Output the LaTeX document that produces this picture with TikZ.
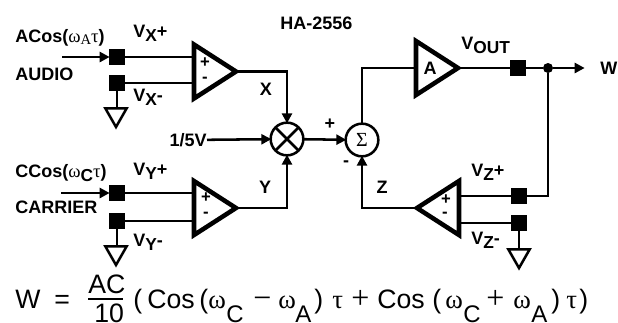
\documentclass[tikz,border=0pt]{standalone}
\usepackage{fontspec}
\setmainfont{Liberation Sans}
\newfontfamily\symfont{Liberation Serif}
\usetikzlibrary{shapes.geometric, arrows.meta, positioning}
\newcommand{\lowsub}[1]{\raisebox{-0.42ex}{\fontsize{13}{13}\selectfont #1}}
\newcommand{\sym}[1]{{\symfont\fontsize{14}{14}\selectfont\mdseries #1}}
\newcommand{\bigsub}[1]{\raisebox{-1.05ex}{\fontsize{18}{18}\selectfont #1}}
\newcommand{\bigop}[1]{{\symfont\fontsize{24}{24}\selectfont #1}}
\tikzset{
  wire/.style={line width=1.9pt},
  sig/.style={wire, -{Triangle[length=7.5pt,width=7.5pt]}, shorten >=-0.5pt},
  amp/.style={draw, line width=3.4pt, isosceles triangle, isosceles triangle stretches,
    minimum height=31.5pt, minimum width=40.5pt, inner sep=0pt, outer sep=0pt, anchor=apex},
  gnd/.style={draw, line width=1.9pt, isosceles triangle, isosceles triangle stretches,
    shape border rotate=-90, minimum height=14pt, minimum width=16pt,
    inner sep=0pt, outer sep=0pt, anchor=apex},
  pad/.style={fill, minimum size=12pt, inner sep=0pt, outer sep=0pt},
  junction/.style={circle, draw, line width=1.9pt, minimum size=24.5pt, inner sep=0pt, outer sep=0pt},
  dotnode/.style={circle, fill, minimum size=7.5pt, inner sep=0pt},
  lbl/.style={font=\fontsize{13.5}{14}\selectfont\bfseries, inner sep=0pt},
  lbll/.style={lbl, anchor=west},
  sign/.style={font=\fontsize{12.5}{13}\selectfont\bfseries, inner sep=0pt},
  eqn/.style={font=\fontsize{20}{20}\selectfont, inner sep=0pt, anchor=base west}
}
\begin{document}
\begin{tikzpicture}[x=0.75pt,y=-0.75pt]
\clip (0,0) rectangle (618,322);
% amplifiers
\node[amp] (ampX) at (236,71.5) {};
\node[amp] (ampY) at (236,208) {};
\node[amp] (ampA) at (458,68) {};
\node[amp, shape border rotate=180] (ampZ) at (417,208) {};
\node[sign] (plusX) at (205,63) {+};
\node[sign] (minusX) at (205,79.5) {-};
\node[sign] (plusY) at (206,198) {+};
\node[sign] (minusY) at (206,214.5) {-};
\node[sign] (plusZ) at (446,200) {+};
\node[sign] (minusZ) at (445,215) {-};
\node[lbl] (gainA) at (430,68) {A};
% pads
\node[pad] (padXp) at (117,57) {};
\node[pad] (padXm) at (117,83) {};
\node[pad] (padYp) at (117,193) {};
\node[pad] (padYm) at (117,221) {};
\node[pad] (padOut) at (518,68) {};
\node[pad] (padZp) at (519,196) {};
\node[pad] (padZm) at (519,223) {};
% grounds
\node[gnd] (gndX) at (116,127) {};
\node[gnd] (gndY) at (116,265) {};
\node[gnd] (gndZ) at (519,268) {};
% multiplier and summer
\node[junction] (mult) at (287,139) {};
\draw[wire] (mult.north west) -- (mult.south east) (mult.north east) -- (mult.south west);
\node[junction, font=\fontsize{15}{15}\selectfont\symfont] (sum) at (362,140) {Σ};
\node[dotnode] (tap) at (548,68) {};
\coordinate (inX) at (62,57);
\coordinate (inY) at (61,193);
\coordinate (outW) at (584,68);
% labels
\node[lbl, anchor=west] (title) at (280,23) {HA-2556};
\node[lbll] (srcX) at (15,38) {ACos(\sym{ω}{\symfont\fontsize{11}{11}\selectfont\mdseries\raisebox{-0.3ex}{A}}\sym{τ})};
\node[lbll] (audio) at (15,74) {AUDIO};
\node[lbll] (srcY) at (15,173) {CCos(\sym{ω}\lowsub{C}\sym{τ})};
\node[lbll] (carrier) at (15,207) {CARRIER};
\node[lbll] (vxp) at (133,33) {V\lowsub{X}+};
\node[lbll] (vxm) at (133,97) {V\lowsub{X}-};
\node[lbll] (vyp) at (133,171) {V\lowsub{Y}+};
\node[lbll] (vym) at (133,242) {V\lowsub{Y}-};
\node[lbll] (vout) at (461,45) {V\lowsub{OUT}};
\node[lbll] (vzp) at (471,172) {V\lowsub{Z}+};
\node[lbll] (vzm) at (471,240) {V\lowsub{Z}-};
\node[lbl] (sigX) at (266,89) {X};
\node[lbl] (sigY) at (265,187) {Y};
\node[lbl] (sigZ) at (382,187) {Z};
\node[lbll] (sigW) at (600,68) {W};
\node[lbl, anchor=east] (ref) at (207,140) {1/5V};
\node[lbl] (sumP) at (330,124) {+};
\node[lbl] (sumM) at (346,164) {-};
% wiring
\draw[sig] (inX) -- (padXp);
\draw[sig] (inY) -- (padYp);
\draw[wire] (padXp) -- (padXp -| ampX.left corner);
\draw[wire] (padXm) -- (padXm -| ampX.left corner);
\draw[wire] (padYp) -- (padYp -| ampY.left corner);
\draw[wire] (padYm) -- (padYm -| ampY.left corner);
\draw[wire] (padXm) -- (padXm |- gndX.north);
\draw[wire] (padYm) -- (padYm |- gndY.north);
\draw[wire] (padZm) -- (padZm |- gndZ.north);
\draw[sig] (ampX.apex) -| (mult);
\draw[sig] (ampY.apex) -| (mult);
\draw[sig] (ref) -- (mult);
\draw[sig] (mult) -- (sum);
\draw[wire] (sum) |- (ampA.left corner |- ampA.apex);
\draw[wire] (ampA.apex) -- (padOut);
\draw[wire] (padOut) -- (tap);
\draw[sig] (tap) -- (outW);
\draw[wire] (tap) |- (padZp);
\draw[wire] (padZp) -- (padZp -| ampZ.left corner);
\draw[wire] (padZm) -- (padZm -| ampZ.left corner);
\draw[sig] (ampZ.apex) -| (sum);
% formula
\node[eqn] (eqW) at (15,308) {W};
\node[eqn] (eqEq) at (54,308) {=};
\node[eqn] (eqAC) at (88,293) {AC};
\node[eqn] (eqTen) at (94,322) {10};
\coordinate (barL) at (88,299);
\coordinate (barR) at (123,299);
\draw[line width=1pt] (barL) -- (barR);
\foreach \xpos/\txt [count=\i] in {133/(, 147/Cos, 199/(, 208/{\symfont ω}, 226/\bigsub{C}, 253/\bigop{−},
    278/{\symfont ω}, 295/\bigsub{A}, 314/), 332/{\symfont τ}, 351/\bigop{+}, 377/Cos, 432/(,
    445/{\symfont ω}, 463/\bigsub{C}, 486/\bigop{+}, 513/{\symfont ω}, 531/\bigsub{A}, 551/), 566/{\symfont τ}, 579/)}
  \node[eqn] (eq\i) at (\xpos,308) {\txt};
\end{tikzpicture}
\end{document}
